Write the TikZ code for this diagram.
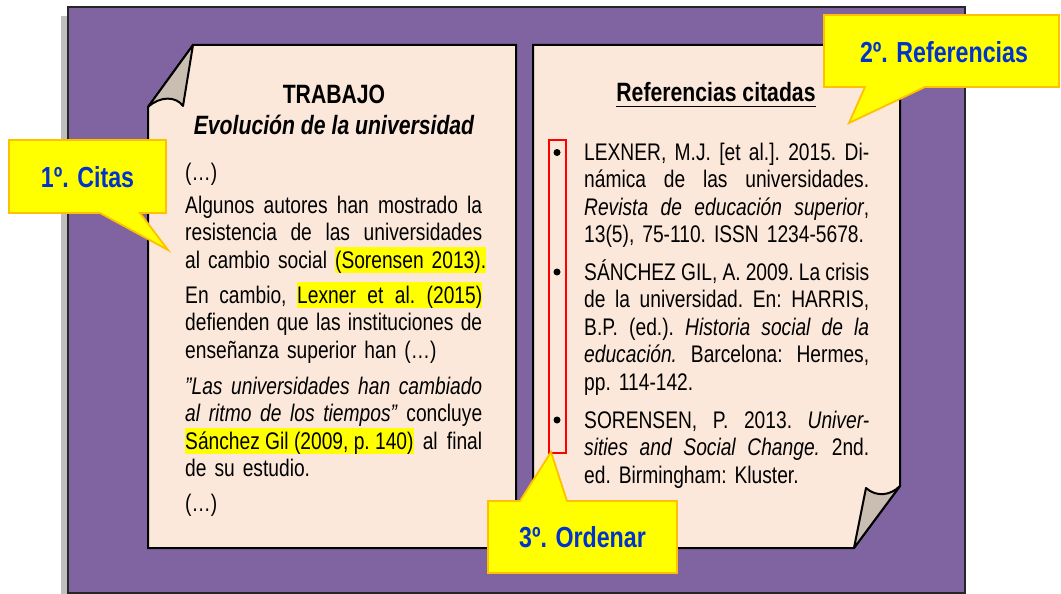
\documentclass[tikz,border=0pt]{standalone}
\usepackage{fontspec}
\setmainfont{Liberation Sans}[FakeStretch=0.80]
\definecolor{bgpurple}{RGB}{128,100,162}
\definecolor{peach}{RGB}{252,232,218}
\definecolor{flapc}{RGB}{202,189,178}
\definecolor{shadowc}{RGB}{191,191,191}
\definecolor{callfill}{RGB}{255,255,0}
\definecolor{calldraw}{RGB}{255,192,0}
\definecolor{callblue}{RGB}{0,51,204}
\definecolor{hlyellow}{RGB}{255,255,0}
\newcommand\stretchsp{\spaceskip=\fontdimen2\font plus 1fil minus 0.3\fontdimen2\font\xspaceskip=\spaceskip}
\newcommand\jl[1]{{\stretchsp\makebox[\linewidth][s]{#1}}}
\newcommand\lastln[1]{\makebox[\linewidth][l]{#1}}
\newcommand\hl[1]{{\setlength{\fboxsep}{0pt}\colorbox{hlyellow}{\rule[-4pt]{0pt}{25pt}#1}}}
\newcommand\hlw[2]{{\setlength{\fboxsep}{0pt}\colorbox{hlyellow}{\rule[-4pt]{0pt}{25pt}{\stretchsp\makebox[#1][s]{#2}}}}}
\tikzset{
  pagebox/.style={fill=peach, draw=black, line width=2pt, line join=miter},
  flapbox/.style={fill=flapc, draw=black, line width=2pt, line join=round},
  bodyl/.style={inner sep=0pt, font=\fontsize{24}{27.5}\selectfont\frenchspacing, text width=297pt, align=left, anchor=base west},
  bodyr/.style={inner sep=0pt, font=\fontsize{24}{27.5}\selectfont\frenchspacing, text width=285pt, align=left, anchor=base west},
  titletext/.style={inner sep=0pt, anchor=base, font=\fontsize{26.5}{30}\selectfont\bfseries},
  callshape/.style={fill=callfill, draw=calldraw, line width=1.8pt, line join=miter},
  calltext/.style={inner sep=0pt, text=callblue, font=\fontsize{29}{32}\selectfont\bfseries},
  bulletdot/.style={circle, fill=black, inner sep=0pt, minimum size=7pt}
}
\begin{document}
\begin{tikzpicture}[x=1pt,y=-1pt]
\useasboundingbox (0,0) rectangle (1061,594);
% background
\fill[shadowc] (61,16) rectangle (958,602);
\fill[bgpurple] (68,7) rectangle (965,593);
\draw[black!85, line width=1.2pt] (68,7) rectangle (965,593);
% left page
\draw[pagebox] (193,45) -- (516,45) -- (516,548) -- (148,548) -- (148,107) -- cycle;
\draw[flapbox] (193,45) -- (148,107) .. controls (160,96) and (176,96) .. (183,106) -- cycle;
% right page
\draw[pagebox] (533,45) -- (900,45) -- (900,486) -- (854,548) -- (533,548) -- cycle;
\draw[flapbox] (900,486) -- (854,548) -- (866,488) .. controls (876,497) and (890,496) .. cycle;
% left texts
\node[titletext] (t1) at (334,103) {TRABAJO};
\node[titletext] (t2) at (334,134) {\itshape Evolución de la universidad};
\node[bodyl] (e1) at (185,180) {(…)};
\node[bodyl] (p1) at (185,213) {\jl{Algunos autores han mostrado la}\\
\jl{resistencia de las universidades}\\
\lastln{al cambio social \hl{(Sorensen 2013).}}};
\node[bodyl] (p2) at (185,303) {\jl{En cambio, \hlw{185pt}{Lexner et al. (2015)}}\\
\jl{defienden que las instituciones de}\\
\lastln{enseñanza superior han (…)}};
\node[bodyl] (p3) at (185,394) {\jl{\itshape "Las universidades han cambiado}\\
\jl{\textit{al ritmo de los tiempos"} concluye}\\
\jl{\hl{Sánchez Gil (2009, p. 140)} al final}\\
\lastln{de su estudio.}};
\node[bodyl] (e2) at (185,511) {(…)};
% right texts
\node[inner sep=0pt, anchor=base, font=\fontsize{26.5}{30}\selectfont\bfseries] (rt) at (716,101.5) {Referencias citadas};
\draw[line width=1.6pt] ([yshift=-5pt]rt.base west) -- ([yshift=-5pt]rt.base east);
\node[bodyr] (r1) at (584,160.5) {\jl{LEXNER, M.J. [et al.]. 2015. Di-}\\
\jl{námica de las universidades.}\\
\jl{\textit{Revista de educación superior},}\\
\lastln{13(5), 75-110. ISSN 1234-5678.}};
\node[bodyr] (r2) at (584,280) {\jl{SÁNCHEZ GIL, A. 2009. La crisis}\\
\jl{de la universidad. En: HARRIS,}\\
\jl{B.P. (ed.). \textit{Historia social de la}}\\
\jl{\textit{educación.} Barcelona: Hermes,}\\
\lastln{pp. 114-142.}};
\node[bodyr] (r3) at (584,428) {\jl{SORENSEN, P. 2013. \textit{Univer-}}\\
\jl{\textit{sities and Social Change.} 2nd.}\\
\lastln{ed. Birmingham: Kluster.}};
\node[bulletdot] (b1) at (557,152.5) {};
\node[bulletdot] (b2) at (557,272) {};
\node[bulletdot] (b3) at (557,420) {};
\draw[red, line width=1.6pt] (549,140) rectangle (566,453);
% callouts
\draw[callshape] (9,140) -- (166,140) -- (166,213) -- (140,213) -- (168,250) -- (100,213) -- (9,213) -- cycle;
\node[calltext] (c1) at (87.5,177) {1º. Citas};
\draw[callshape] (824,15) -- (1059,15) -- (1059,87) -- (925,87) -- (849,123) -- (865,87) -- (824,87) -- cycle;
\node[calltext] (c2) at (944,52) {2º. Referencias};
\draw[callshape] (488,501) -- (520,501) -- (551,452) -- (567,501) -- (677,501) -- (677,573) -- (488,573) -- cycle;
\node[calltext] (c3) at (582.5,537) {3º. Ordenar};
\end{tikzpicture}
\end{document}
